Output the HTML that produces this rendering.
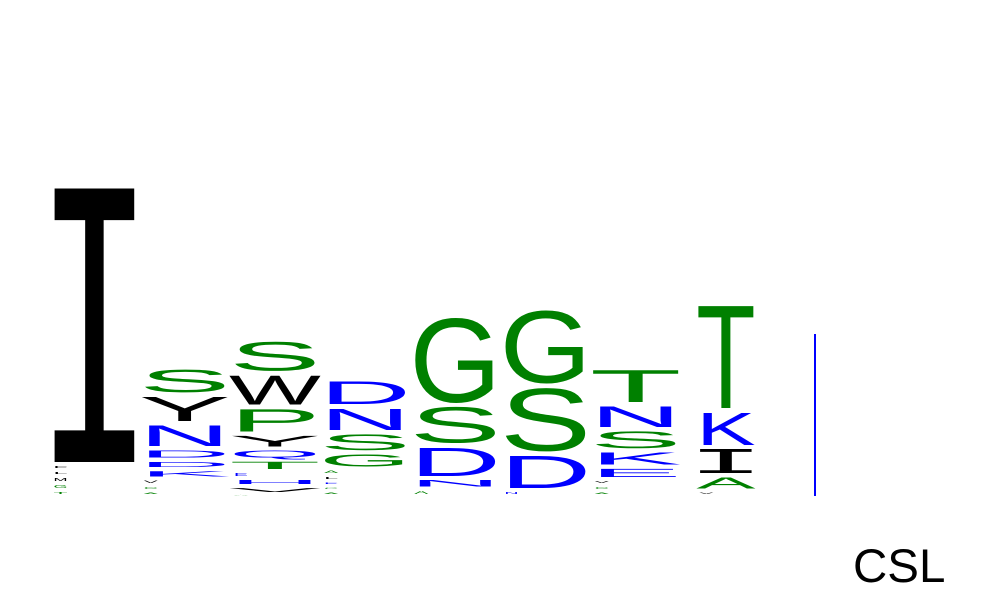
<!DOCTYPE html>
<html><head><meta charset="utf-8"><style>
html,body{margin:0;padding:0;background:#fff;}
svg{display:block;}
</style></head><body>
<svg id="logo" width="1000" height="600" viewBox="0 0 1000 600">
<rect x="814" y="334" width="2" height="162" fill="#0000ff"/>
<text x="853" y="582" font-family="'Liberation Sans', sans-serif" font-size="47.5" fill="#000">CSL</text>
<g id="cols"></g>
</svg>
<script>
// letters per position, listed from bottom to top; heights in bits
const positions = ["1","2","3","4","5","6","7","8"];
const col1Letters = ["T","G","M","L","F","I"];
const col1Heights = [0.06,0.07,0.07,0.06,0.06,2.78];
const col2Letters = ["A","C","V","K","D","D","N","Y","S"];
const col2Heights = [0.05,0.06,0.065,0.095,0.095,0.115,0.25,0.29,0.27];
const col3Letters = ["A","V","H","E","T","Q","Y","P","W","S"];
const col3Heights = [0.02,0.08,0.08,0.07,0.115,0.11,0.15,0.27,0.34,0.335];
const col4Letters = ["A","C","E","L","A","G","S","N","D"];
const col4Heights = [0.05,0.05,0.05,0.06,0.065,0.165,0.20,0.26,0.27];
const col5Letters = ["A","N","D","S","G"];
const col5Heights = [0.075,0.105,0.335,0.405,0.90];
const col6Letters = ["N","D","S","G"];
const col6Heights = [0.06,0.375,0.68,0.775];
const col7Letters = ["A","C","V","E","K","S","N","T"];
const col7Heights = [0.05,0.06,0.06,0.125,0.165,0.21,0.25,0.37];
const col8Letters = ["V","A","I","K","T"];
const col8Heights = [0.055,0.155,0.28,0.37,1.10];
const colLetters = [col1Letters,col2Letters,col3Letters,col4Letters,col5Letters,col6Letters,col7Letters,col8Letters];
const colHeights = [col1Heights,col2Heights,col3Heights,col4Heights,col5Heights,col6Heights,col7Heights,col8Heights];

const colorOf = {A:"#008000",C:"#008000",G:"#008000",S:"#008000",T:"#008000",Q:"#0000ff",N:"#0000ff",D:"#0000ff",E:"#0000ff",K:"#0000ff",H:"#0000ff",R:"#0000ff",P:"#008000",I:"#000",L:"#000",M:"#000",F:"#000",W:"#000",Y:"#000",V:"#000"};
const baseY = 496, pxPerBit = 100, gap = 4, capH = 0.716, capHMono = 0.66;
function xCenter(i){ return 94.5 + i*90.2; }
function colWidth(i){ return i === 7 ? 53 : 82; }
function yScale(bits){ return bits*pxPerBit; }

const NS = "http://www.w3.org/2000/svg";
const g = document.getElementById("cols");
positions.forEach((p, i) => {
  const cg = document.createElementNS(NS, "g");
  
  
  g.appendChild(cg);
  const w = colWidth(i), x0 = xCenter(i) - w/2;
  let y = baseY;
  colLetters[i].forEach((L, j) => {
    const slot = yScale(colHeights[i][j]);
    const slotTop = y - slot;
    let gh = slot - gap, gb = y - gap/2;
    if (gh < 1) { gh = slot*0.4; gb = y - slot*0.3; }
    y = slotTop;
    const tiny = slot < 8;
    const t = document.createElementNS(NS, "text");
    
    
    t.textContent = L;
    t.setAttribute("y", 0);
    t.setAttribute("font-size", 100);
    let tl, tx, ch = capH;
    if (L === "I") {
      t.setAttribute("font-family", "'Liberation Mono', monospace");
      tl = w * 1.45; tx = -w * 0.225; ch = capHMono;
    } else if (tiny) {
      t.setAttribute("font-family", "'Liberation Sans', sans-serif");
      tl = 14; tx = 0;
    } else {
      t.setAttribute("font-family", "'Liberation Sans', sans-serif");
      tl = w * 1.12; tx = -w * 0.06;
    }
    t.setAttribute("x", tx);
    t.setAttribute("textLength", tl);
    t.setAttribute("lengthAdjust", "spacingAndGlyphs");
    t.setAttribute("fill", colorOf[L] || "#000");
    const sy = gh / (100*ch);
    t.setAttribute("transform", "translate(" + x0 + "," + gb + ") scale(1," + sy + ")");
    cg.appendChild(t);
  });
});
</script>
</body></html>
